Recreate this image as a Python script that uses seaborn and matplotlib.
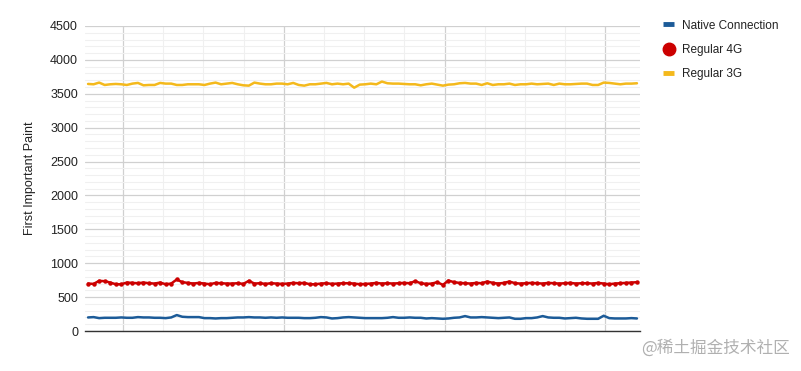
import numpy as np
import pandas as pd
import seaborn as sns
import matplotlib
matplotlib.use("Agg")
import matplotlib.pyplot as plt
from matplotlib.lines import Line2D
from matplotlib.ticker import MultipleLocator, FixedLocator

native = [200, 205, 190, 195, 195, 195, 200, 195, 195, 205,
          200, 200, 195, 195, 190, 200, 235, 210, 205, 205,
          205, 190, 190, 185, 190, 190, 195, 200, 200, 205,
          200, 200, 195, 200, 195, 200, 195, 195, 195, 190,
          190, 195, 205, 200, 185, 190, 200, 205, 200, 195,
          190, 190, 190, 190, 195, 205, 195, 195, 200, 195,
          195, 185, 190, 185, 180, 185, 195, 200, 220, 200,
          200, 205, 200, 195, 190, 195, 200, 180, 180, 190,
          190, 200, 220, 200, 195, 195, 185, 190, 195, 185,
          180, 180, 180, 225, 190, 185, 185, 185, 190, 185]

reg4g = [700, 695, 740, 735, 715, 690, 690, 715, 710, 705,
         715, 705, 700, 715, 690, 700, 760, 720, 710, 700,
         710, 700, 690, 710, 705, 700, 700, 705, 695, 740,
         700, 705, 695, 705, 700, 695, 700, 710, 705, 710,
         690, 690, 700, 705, 695, 700, 705, 705, 700, 690,
         695, 700, 710, 700, 705, 700, 705, 710, 705, 735,
         705, 695, 700, 720, 680, 745, 720, 710, 705, 700,
         710, 705, 730, 710, 700, 710, 730, 705, 700, 705,
         710, 705, 700, 710, 705, 700, 705, 710, 700, 705,
         705, 700, 710, 700, 690, 700, 705, 710, 715, 720]

reg3g = [3645, 3640, 3665, 3630, 3640, 3645, 3640, 3630, 3650, 3660,
         3625, 3630, 3630, 3660, 3650, 3650, 3630, 3630, 3640, 3640,
         3640, 3630, 3650, 3665, 3640, 3650, 3660, 3640, 3625, 3620,
         3665, 3650, 3640, 3640, 3650, 3650, 3640, 3660, 3630, 3620,
         3640, 3640, 3650, 3660, 3640, 3650, 3640, 3650, 3590, 3635,
         3640, 3650, 3640, 3680, 3655, 3650, 3650, 3645, 3640, 3640,
         3625, 3640, 3650, 3635, 3620, 3635, 3640, 3655, 3660, 3650,
         3650, 3630, 3655, 3630, 3640, 3640, 3650, 3630, 3640, 3640,
         3650, 3640, 3645, 3650, 3630, 3650, 3640, 3640, 3645, 3650,
         3650, 3630, 3630, 3665, 3660, 3650, 3640, 3650, 3650, 3655]

series_names = ["Native Connection", "Regular 4G", "Regular 3G"]
colors = ["#1c5b98", "#cc0000", "#f4b91c"]
y_ticks = [0, 500, 1000, 1500, 2000, 2500, 3000, 3500, 4000, 4500]

n = len(native)
x = np.arange(n)
df = pd.DataFrame({
    "x": np.concatenate([x, x, x]),
    "value": native + reg4g + reg3g,
    "series": [series_names[0]] * n + [series_names[1]] * n + [series_names[2]] * n,
})

sns.set_theme(style="white")
plt.rcParams['font.family'] = ['Liberation Sans', 'DejaVu Sans']

fig = plt.figure(figsize=(8.01, 3.71), dpi=100)
ax = fig.add_axes([85 / 801, 1 - 331 / 371, (640 - 85) / 801, (331 - 26) / 371])

for name, col in zip(series_names, colors):
    sub = df[df["series"] == name]
    kw = dict(marker="o", markersize=3.2, markeredgewidth=0) if name == "Regular 4G" else {}
    sns.lineplot(data=sub, x="x", y="value", color=col, linewidth=1.8, ax=ax, legend=False, zorder=3, **kw)

ax.set_xlim(-0.55, n - 1 + 0.55)
ax.set_ylim(0, 4500)
ax.yaxis.set_major_locator(FixedLocator(y_ticks))
ax.yaxis.set_minor_locator(MultipleLocator(100))
step = 29.0
start = 6.3
ax.xaxis.set_major_locator(FixedLocator([start + step * k for k in range(4)]))
ax.xaxis.set_minor_locator(FixedLocator([start + step * k / 4 for k in range(-1, 16)]))
ax.grid(True, which="major", color="#d0d0d0", linewidth=0.9)
ax.grid(True, which="minor", color="#f0f0f0", linewidth=0.8)
ax.set_axisbelow(True)
ax.tick_params(axis="x", which="both", labelbottom=False, length=0)
ax.tick_params(axis="y", which="both", length=0, labelsize=9, colors="#222222", pad=5)
for s in ["top", "right", "left"]:
    ax.spines[s].set_visible(False)
ax.spines["bottom"].set_color("#333333")
ax.spines["bottom"].set_linewidth(1.0)
ax.set_xlabel("")
ax.set_ylabel("First Important Paint", fontsize=9, color="#222222", labelpad=10)

handles = [
    Line2D([], [], color=colors[0], linewidth=3.5, solid_capstyle="butt"),
    Line2D([], [], color=colors[1], marker="o", linestyle="none", markersize=9),
    Line2D([], [], color=colors[2], linewidth=3.5, solid_capstyle="butt"),
]
fig.legend(handles, series_names, loc="upper left", bbox_to_anchor=(652 / 801, 1 - 9 / 371),
           frameon=False, fontsize=8.5, handlelength=1.0, handletextpad=0.6,
           labelspacing=1.05, labelcolor="#222222")

fig.text(790 / 801, 1 - 348 / 371, "@稀土掘金技术社区", ha="right", va="center",
         fontsize=12, color="#b0b0b0", family=["Noto Sans CJK SC", "DejaVu Sans"])

fig.savefig("out.png", dpi=100)
